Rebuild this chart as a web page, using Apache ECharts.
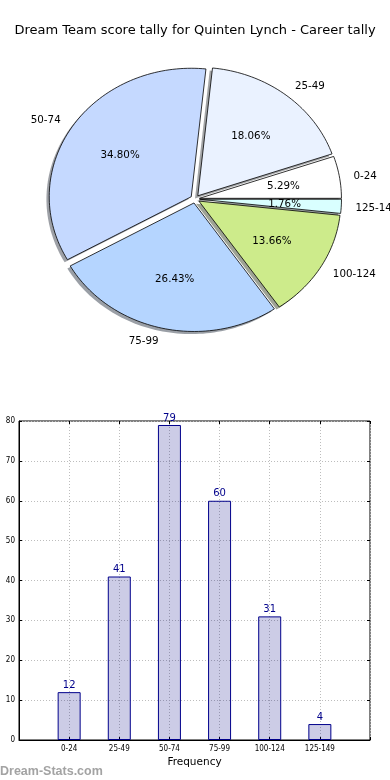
<!DOCTYPE html>
<html>
<head>
<meta charset="utf-8">
<script src="https://cdn.jsdelivr.net/npm/echarts@6/dist/echarts.min.js"></script>
<style>
html,body{margin:0;padding:0;background:#fff;}
#chart{width:390px;height:780px;}
</style>
</head>
<body>
<div id="chart"></div>
<script>
// ---- data ----
var titleText = 'Dream Team score tally for Quinten Lynch - Career tally';
var categories = ['0-24', '25-49', '50-74', '75-99', '100-124', '125-149'];
var counts = [12, 41, 79, 60, 31, 4];
var sliceColors = ['#ffffff', '#eaf2ff', '#c5d9ff', '#b5d5ff', '#cdeb8b', '#d9ffff'];
var yTicks = [0, 10, 20, 30, 40, 50, 60, 70, 80];
var watermark = 'Dream-Stats.com';
var xName = 'Frequency';

// ---- pie layout (ellipse, matplotlib style) ----
var PIE = {cx: 195, cy: 199, r: 142, sy: 0.905, explode: 4.5, shadowDx: -2.8, shadowDy: 2.6, labelDy: 1};
var total = counts.reduce(function (a, b) { return a + b; }, 0);
var startAngles = [], endAngles = [];
(function () {
  var acc = 0;
  for (var i = 0; i < counts.length; i++) {
    startAngles.push(acc / total * 360);
    acc += counts[i];
    endAngles.push(acc / total * 360);
  }
})();

function hexToRgb(h) {
  return [parseInt(h.substr(1, 2), 16), parseInt(h.substr(3, 2), 16), parseInt(h.substr(5, 2), 16)];
}

function wedgePoints(i, ox, oy) {
  var a0 = startAngles[i], a1 = endAngles[i];
  var m = (a0 + a1) / 2 * Math.PI / 180;
  var cx = PIE.cx + PIE.explode * Math.cos(m) + ox;
  var cy = PIE.cy - PIE.explode * Math.sin(m) * PIE.sy + oy;
  var pts = [[cx, cy]];
  var steps = Math.max(4, Math.ceil((a1 - a0) / 1.5));
  for (var k = 0; k <= steps; k++) {
    var a = (a0 + (a1 - a0) * k / steps) * Math.PI / 180;
    pts.push([cx + PIE.r * Math.cos(a), cy - PIE.r * PIE.sy * Math.sin(a)]);
  }
  return pts;
}

function labelPos(i, dist) {
  var m = (startAngles[i] + endAngles[i]) / 2 * Math.PI / 180;
  var cx = PIE.cx + PIE.explode * Math.cos(m);
  var cy = PIE.cy - PIE.explode * Math.sin(m) * PIE.sy + PIE.labelDy;
  return {x: cx + dist * PIE.r * Math.cos(m), y: cy - dist * PIE.r * PIE.sy * Math.sin(m), c: Math.cos(m)};
}

var pieData = counts.map(function (v, i) { return {value: v, name: categories[i]}; });

var chart = echarts.init(document.getElementById('chart'), null, {renderer: 'canvas'});

var gridDots = {color: '#bdbdbd', type: [1, 2], width: 1};

var option = {
  animation: false,
  backgroundColor: '#ffffff',
  title: {
    text: titleText,
    left: 'center',
    top: 19,
    textStyle: {fontFamily: 'DejaVu Sans', fontSize: 13, fontWeight: 'normal', color: '#000'}
  },
  graphic: [{
    type: 'text', left: 0, top: 765,
    style: {text: watermark, fontFamily: 'Liberation Sans', fontWeight: 'bold', fontSize: 12.5, fill: '#a3a3a3'}
  }],
  grid: {left: 19, right: 20, top: 421, bottom: 40, show: true, borderColor: '#000', borderWidth: 1, backgroundColor: 'transparent'},
  xAxis: [{
    type: 'value', min: -1, max: 6, interval: 1,
    name: xName, nameLocation: 'middle', nameGap: 17,
    nameTextStyle: {fontFamily: 'DejaVu Sans', fontSize: 10.5, color: '#000'},
    axisLine: {show: true, onZero: false, lineStyle: {color: '#000'}},
    axisTick: {show: true, inside: true, length: 3, lineStyle: {color: '#000'}},
    axisLabel: {
      margin: 5, fontFamily: 'DejaVu Sans Condensed', fontSize: 8, color: '#000',
      showMinLabel: true, showMaxLabel: true,
      formatter: function (v) { return (v >= 0 && v < categories.length) ? categories[v] : ''; }
    },
    splitLine: {show: true, lineStyle: gridDots}
  }, {
    type: 'value', min: -1, max: 6, interval: 1, position: 'top',
    axisLine: {show: false, onZero: false},
    axisTick: {show: true, inside: true, length: 3, lineStyle: {color: '#000'}},
    axisLabel: {show: false}, splitLine: {show: false}
  }],
  yAxis: [{
    type: 'value', min: yTicks[0], max: yTicks[yTicks.length - 1], interval: 10, position: 'left',
    axisLine: {show: true, onZero: false, lineStyle: {color: '#000'}},
    axisTick: {show: true, inside: true, length: 3, lineStyle: {color: '#000'}},
    axisLabel: {margin: 4, fontFamily: 'DejaVu Sans Condensed', fontSize: 8, color: '#000'},
    splitLine: {show: true, lineStyle: gridDots}
  }, {
    type: 'value', min: yTicks[0], max: yTicks[yTicks.length - 1], interval: 10, position: 'right',
    axisLine: {show: false, onZero: false},
    axisTick: {show: true, inside: true, length: 3, lineStyle: {color: '#000'}},
    axisLabel: {show: false}, splitLine: {show: false}
  }],
  series: [
    {
      type: 'bar',
      xAxisIndex: 0, yAxisIndex: 0,
      data: counts.map(function (v, i) { return [i, v]; }),
      barWidth: 23,
      itemStyle: {color: 'rgba(0,0,128,0.2)', borderColor: '#00008b', borderWidth: 1},
      label: {show: true, position: 'top', distance: 2, color: '#00008b', fontFamily: 'DejaVu Sans', fontSize: 10,
        formatter: function (p) { return p.value[1]; }},
      z: 1
    },
    {
      // shadows
      type: 'custom', coordinateSystem: 'none', z: 2,
      data: pieData,
      renderItem: function (params, api) {
        var i = params.dataIndex;
        var c = hexToRgb(sliceColors[i]);
        return {
          type: 'polygon',
          shape: {points: wedgePoints(i, PIE.shadowDx, PIE.shadowDy)},
          style: {fill: 'rgba(' + Math.round(c[0] * 0.3) + ',' + Math.round(c[1] * 0.3) + ',' + Math.round(c[2] * 0.3) + ',0.5)', stroke: null}
        };
      }
    },
    {
      // wedges
      type: 'custom', coordinateSystem: 'none', z: 3,
      data: pieData,
      renderItem: function (params, api) {
        var i = params.dataIndex;
        return {
          type: 'polygon',
          shape: {points: wedgePoints(i, 0, 0)},
          style: {fill: sliceColors[i], stroke: '#000', lineWidth: 0.8, lineJoin: 'miter'}
        };
      }
    },
    {
      // labels
      type: 'custom', coordinateSystem: 'none', z: 4,
      data: pieData,
      renderItem: function (params, api) {
        var i = params.dataIndex;
        var lp = labelPos(i, 1.1);
        var pp = labelPos(i, 0.6);
        var pct = (api.value(0) / total * 100).toFixed(2) + '%';
        return {
          type: 'group',
          children: [{
            type: 'text',
            style: {x: lp.x, y: lp.y, text: categories[i], fill: '#000', fontFamily: 'DejaVu Sans', fontSize: 10.3,
              align: lp.c >= 0 ? 'left' : 'right', verticalAlign: 'middle'}
          }, {
            type: 'text',
            style: {x: pp.x, y: pp.y, text: pct, fill: '#000', fontFamily: 'DejaVu Sans', fontSize: 10.3,
              align: 'center', verticalAlign: 'middle'}
          }]
        };
      }
    }
  ]
};
chart.setOption(option);
</script>
</body>
</html>
